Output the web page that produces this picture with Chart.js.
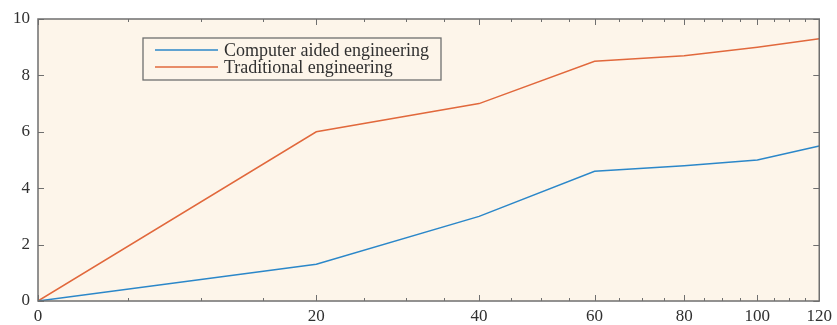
<!DOCTYPE html>
<html>
<head>
<meta charset="utf-8">
<script src="https://cdn.jsdelivr.net/npm/chart.js@4/dist/chart.umd.min.js"></script>
<style>
  html, body { margin: 0; padding: 0; background: #ffffff; }
  #wrap { width: 837px; height: 325px; }
</style>
</head>
<body>
<div id="wrap"><canvas id="c" width="837" height="325"></canvas></div>
<script>
// Shared x positions of the samples
const xValues = [0, 20, 40, 60, 80, 100, 120];
// Series values
const caeValues = [0, 1.3, 3.0, 4.6, 4.8, 5.0, 5.5];
const traditionalValues = [0, 6.0, 7.0, 8.5, 8.7, 9.0, 9.3];
const seriesLabels = ['Computer aided engineering', 'Traditional engineering'];
// Axis ticks
const xMajorTicks = [0, 20, 40, 60, 80, 100, 120];
const xMinorTicks = [5, 10, 15, 25, 30, 35, 45, 50, 55, 65, 70, 75, 85, 90, 95, 105, 110, 115];
const yTicks = [0, 2, 4, 6, 8, 10];
// The x axis is logarithmic in (x + offset)
const axisLogOffset = 20;

const AXIS_COLOR = '#6f6f6f';
const TEXT_COLOR = '#303030';
const FONT_FAMILY = "'Liberation Serif', 'DejaVu Serif', serif";

// Linear scale whose pixel mapping is log(value + offset)
class OffsetLogScale extends Chart.LinearScale {
  _lg(v) { return Math.log(v + axisLogOffset); }
  getPixelForValue(value) {
    const a = this._lg(this.min), b = this._lg(this.max);
    return this.getPixelForDecimal((this._lg(value) - a) / (b - a));
  }
  getValueForPixel(pixel) {
    const a = this._lg(this.min), b = this._lg(this.max);
    const d = this.getDecimalForPixel(pixel);
    return Math.exp(a + d * (b - a)) - axisLogOffset;
  }
}
OffsetLogScale.id = 'offsetLog';
OffsetLogScale.defaults = {};
Chart.register(OffsetLogScale);

// Background, frame, inward tick marks and legend box
const framePlugin = {
  id: 'frame',
  beforeDatasetsDraw(chart) {
    const { ctx, chartArea: a } = chart;
    ctx.save();
    ctx.fillStyle = '#fdf5ea';
    ctx.fillRect(a.left, a.top, a.right - a.left, a.bottom - a.top);
    ctx.restore();
  },
  afterDatasetsDraw(chart) {
    const { ctx, chartArea: a, scales } = chart;
    const xs = scales.x, ys = scales.y;
    ctx.save();
    ctx.strokeStyle = AXIS_COLOR;
    ctx.lineWidth = 1;
    const majorLen = 6, minorLen = 3;
    ctx.beginPath();
    xMajorTicks.concat(xMinorTicks).forEach(v => {
      const len = xMajorTicks.includes(v) ? majorLen : minorLen;
      const px = Math.round(xs.getPixelForValue(v)) + 0.5;
      ctx.moveTo(px, a.bottom); ctx.lineTo(px, a.bottom - len);
      ctx.moveTo(px, a.top); ctx.lineTo(px, a.top + len);
    });
    yTicks.forEach(v => {
      const py = Math.round(ys.getPixelForValue(v)) + 0.5;
      ctx.moveTo(a.left, py); ctx.lineTo(a.left + majorLen, py);
      ctx.moveTo(a.right, py); ctx.lineTo(a.right - majorLen, py);
    });
    ctx.stroke();
    ctx.lineWidth = 1.5;
    ctx.strokeRect(a.left, a.top, a.right - a.left, a.bottom - a.top);

    // legend
    const bx = a.left + 105, by = a.top + 19, bw = 298, bh = 42;
    ctx.fillStyle = '#fdf5ea';
    ctx.fillRect(bx, by, bw, bh);
    ctx.lineWidth = 1.3;
    ctx.strokeStyle = AXIS_COLOR;
    ctx.strokeRect(bx, by, bw, bh);
    ctx.font = '18px ' + FONT_FAMILY;
    ctx.textBaseline = 'middle';
    ctx.textAlign = 'left';
    chart.data.datasets.forEach((ds, i) => {
      const y = by + 12 + i * 17;
      ctx.strokeStyle = ds.borderColor;
      ctx.lineWidth = 1.5;
      ctx.beginPath();
      ctx.moveTo(bx + 12, y); ctx.lineTo(bx + 75, y);
      ctx.stroke();
      ctx.fillStyle = TEXT_COLOR;
      ctx.fillText(ds.label, bx + 81, y + 1);
    });
    ctx.restore();
  }
};

const toPoints = vals => xValues.map((x, i) => ({ x, y: vals[i] }));

new Chart(document.getElementById('c'), {
  type: 'line',
  data: {
    datasets: [
      { label: seriesLabels[0], data: toPoints(caeValues), borderColor: '#2b87c9', borderWidth: 1.5, pointRadius: 0, tension: 0 },
      { label: seriesLabels[1], data: toPoints(traditionalValues), borderColor: '#e1683c', borderWidth: 1.5, pointRadius: 0, tension: 0 }
    ]
  },
  options: {
    responsive: false,
    animation: false,
    layout: { padding: { top: 19, right: 14, left: 0, bottom: 0 } },
    plugins: { legend: { display: false }, tooltip: { enabled: false } },
    scales: {
      x: {
        type: 'offsetLog',
        min: 0, max: 120,
        grid: { display: false, drawTicks: false },
        border: { display: false },
        afterBuildTicks: s => { s.ticks = xMajorTicks.map(v => ({ value: v })); },
        afterFit: s => { s.height = 24; },
        ticks: {
          autoSkip: false, maxRotation: 0, padding: 5,
          color: TEXT_COLOR, font: { family: FONT_FAMILY, size: 17 },
          callback: v => String(v)
        }
      },
      y: {
        type: 'linear',
        min: 0, max: 10,
        grid: { display: false, drawTicks: false },
        border: { display: false },
        afterBuildTicks: s => { s.ticks = yTicks.map(v => ({ value: v })); },
        afterFit: s => { s.width = 38; },
        ticks: {
          padding: 8,
          color: TEXT_COLOR, font: { family: FONT_FAMILY, size: 17 },
          callback: v => String(v)
        }
      }
    }
  },
  plugins: [framePlugin]
});
</script>
</body>
</html>
